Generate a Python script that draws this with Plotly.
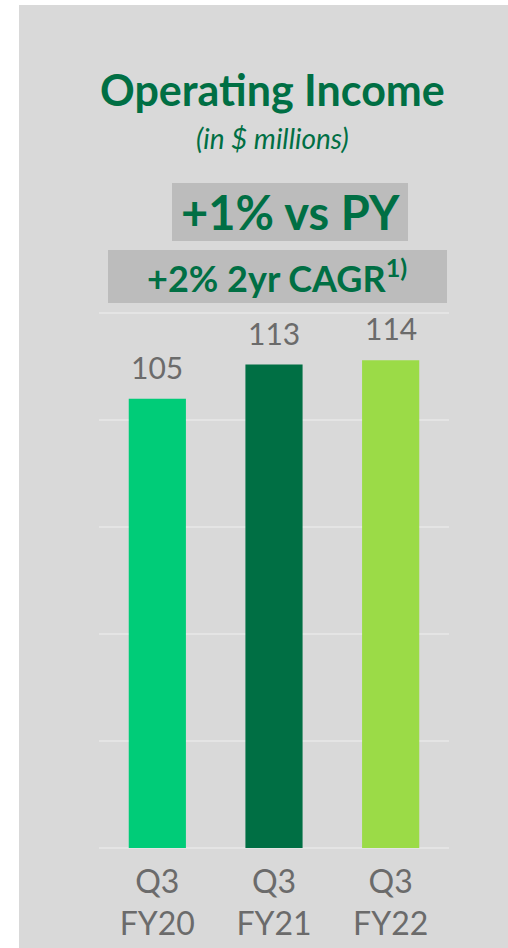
import plotly.graph_objects as go

categories = ["Q3<br>FY20", "Q3<br>FY21", "Q3<br>FY22"]
values = [105, 113, 114]
bar_colors = ["#00cc78", "#006f44", "#9bdb47"]
value_labels = ["105", "113", "114"]

W, H = 508, 948
L, R, T, B = 99, 59, 312, 100
PW, PH = W - L - R, H - T - B

def px(x):
    return (x - L) / PW

def py(y):
    return (H - B - y) / PH

GREEN = "#006f44"
GRAY_TXT = "#6b6b6b"
FONT = "Lato, 'Open Sans', sans-serif"

fig = go.Figure()
fig.add_trace(go.Bar(
    x=categories, y=values, marker=dict(color=bar_colors, line=dict(width=0)),
    width=0.49, hoverinfo="skip",
))

shapes = [
    dict(type="rect", xref="paper", yref="paper", x0=px(19), x1=px(520), y0=py(960), y1=py(5),
         fillcolor="#d9d9d9", line=dict(width=0), layer="below"),
    dict(type="rect", xref="paper", yref="paper", x0=px(172), x1=px(408), y0=py(241), y1=py(183),
         fillcolor="#bcbcbc", line=dict(width=0), layer="below"),
    dict(type="rect", xref="paper", yref="paper", x0=px(108), x1=px(447), y0=py(303), y1=py(250),
         fillcolor="#bcbcbc", line=dict(width=0), layer="below"),
]

annotations = [
    dict(text="<b>Operating Income</b>", x=px(272), y=py(90), xref="paper", yref="paper",
         showarrow=False, font=dict(family=FONT, size=43, color=GREEN), xanchor="center", yanchor="middle"),
    dict(text="<i>(in $ millions)</i>", x=px(272), y=py(138), xref="paper", yref="paper",
         showarrow=False, font=dict(family=FONT, size=28, color=GREEN), xanchor="center", yanchor="middle"),
    dict(text="<b>+1% vs PY</b>", x=px(290), y=py(212), xref="paper", yref="paper",
         showarrow=False, font=dict(family=FONT, size=47, color=GREEN), xanchor="center", yanchor="middle"),
    dict(text="<b>+2% 2yr CAGR<sup>1)</sup></b>", x=px(277), y=py(276), xref="paper", yref="paper",
         showarrow=False, font=dict(family=FONT, size=36, color=GREEN), xanchor="center", yanchor="middle"),
]
for c, v, t in zip(categories, values, value_labels):
    annotations.append(dict(text=t, x=c, y=v, xref="x", yref="y", showarrow=False,
                            yanchor="bottom", yshift=12,
                            font=dict(family=FONT, size=30, color=GRAY_TXT)))

fig.update_layout(
    width=W, height=H,
    margin=dict(l=L, r=R, t=T, b=B, pad=0, autoexpand=False),
    paper_bgcolor="white", plot_bgcolor="rgba(0,0,0,0)",
    showlegend=False, bargap=0.51,
    shapes=shapes, annotations=annotations,
    font=dict(family=FONT, color=GRAY_TXT),
)
fig.update_xaxes(showgrid=False, showline=False, ticks="", zeroline=False, automargin=False,
                 tickfont=dict(family=FONT, size=32, color=GRAY_TXT), ticklabelstandoff=12)
fig.update_yaxes(range=[0, 125.3], tickvals=[0, 25, 50, 75, 100, 125], showticklabels=False,
                 automargin=False,
                 showgrid=True, gridcolor="#e4e4e4", gridwidth=2,
                 zeroline=True, zerolinecolor="#e4e4e4", zerolinewidth=2, showline=False)

fig.write_html("out.html", post_script="document.body.style.margin='0';document.body.style.overflow='hidden';",
               config={"displayModeBar": False})
